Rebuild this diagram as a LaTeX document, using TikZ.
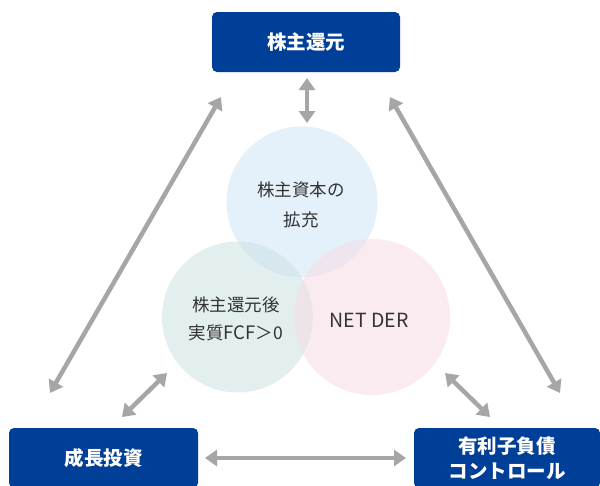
\documentclass[tikz,border=0pt]{standalone}
\usepackage{fontspec}
\setmainfont{Noto Sans CJK JP}
\usetikzlibrary{arrows.meta}
\definecolor{boxblue}{HTML}{003F98}
\definecolor{arrgray}{HTML}{A6A6A6}
\definecolor{cblue}{HTML}{CFE4F7}
\definecolor{cgreen}{HTML}{CCE3E3}
\definecolor{cpink}{HTML}{F7DCE7}
\tikzset{
  box/.style={fill=boxblue, rounded corners=5pt, text=white, font=\bfseries\fontsize{19.5}{25}\selectfont, align=center, inner sep=0pt},
  dbl/.style={draw=arrgray, line width=4.5pt, {Triangle[length=12pt,width=16pt]}-{Triangle[length=12pt,width=16pt]}},
  circ/.style={circle, inner sep=0pt, fill opacity=0.55, text opacity=1},
  ctext/.style={font=\fontsize{17.5}{29}\selectfont, align=center, text=black!80},
}
\begin{document}
\begin{tikzpicture}[x=1pt,y=-1pt]
\clip (0,0) rectangle (600,485);
\fill[white] (0,0) rectangle (600,485);
% circles
\node[circ, fill=cblue, minimum size=151pt] (c1) at (302,202) {};
\node[circ, fill=cgreen, minimum size=151pt] (c2) at (237.5,317) {};
\node[circ, fill=cpink, minimum size=156pt] (c3) at (372,317) {};
\node[ctext, font=\fontsize{17.5}{30}\selectfont] (t1) at (301,205) {株主資本の\\拡充};
\node[ctext, font=\fontsize{17.5}{28}\selectfont] (t2) at (236,319) {株主還元後\\実質{\fontsize{18.5}{28}\selectfont FCF}＞0};
\node[ctext, font=\fontsize{19.5}{28}\selectfont] (t3) at (369,320) {NET DER};
% boxes
\node[box, minimum width=188pt, minimum height=60pt] (top) at (306,42) {株主還元};
\node[box, minimum width=189pt, minimum height=60pt] (bl) at (103.5,458) {成長投資};
\node[box, minimum width=186pt, minimum height=60pt] (br) at (507,458) {有利子負債\\コントロール};
% arrow end points
\coordinate (a1s) at (307,78);
\coordinate (a1e) at (307,123);
\coordinate (a2s) at (221,97);
\coordinate (a2e) at (50,393);
\coordinate (a3s) at (390,97);
\coordinate (a3e) at (560,393);
\coordinate (a4s) at (167,373);
\coordinate (a4e) at (122,417);
\coordinate (a5s) at (445,373);
\coordinate (a5e) at (490,417);
\coordinate (a6s) at (205,458);
\coordinate (a6e) at (406,458);
\draw[dbl] (a1s) -- (a1e);
\draw[dbl] (a2s) -- (a2e);
\draw[dbl] (a3s) -- (a3e);
\draw[dbl] (a4s) -- (a4e);
\draw[dbl] (a5s) -- (a5e);
\draw[dbl] (a6s) -- (a6e);
\end{tikzpicture}
\end{document}
